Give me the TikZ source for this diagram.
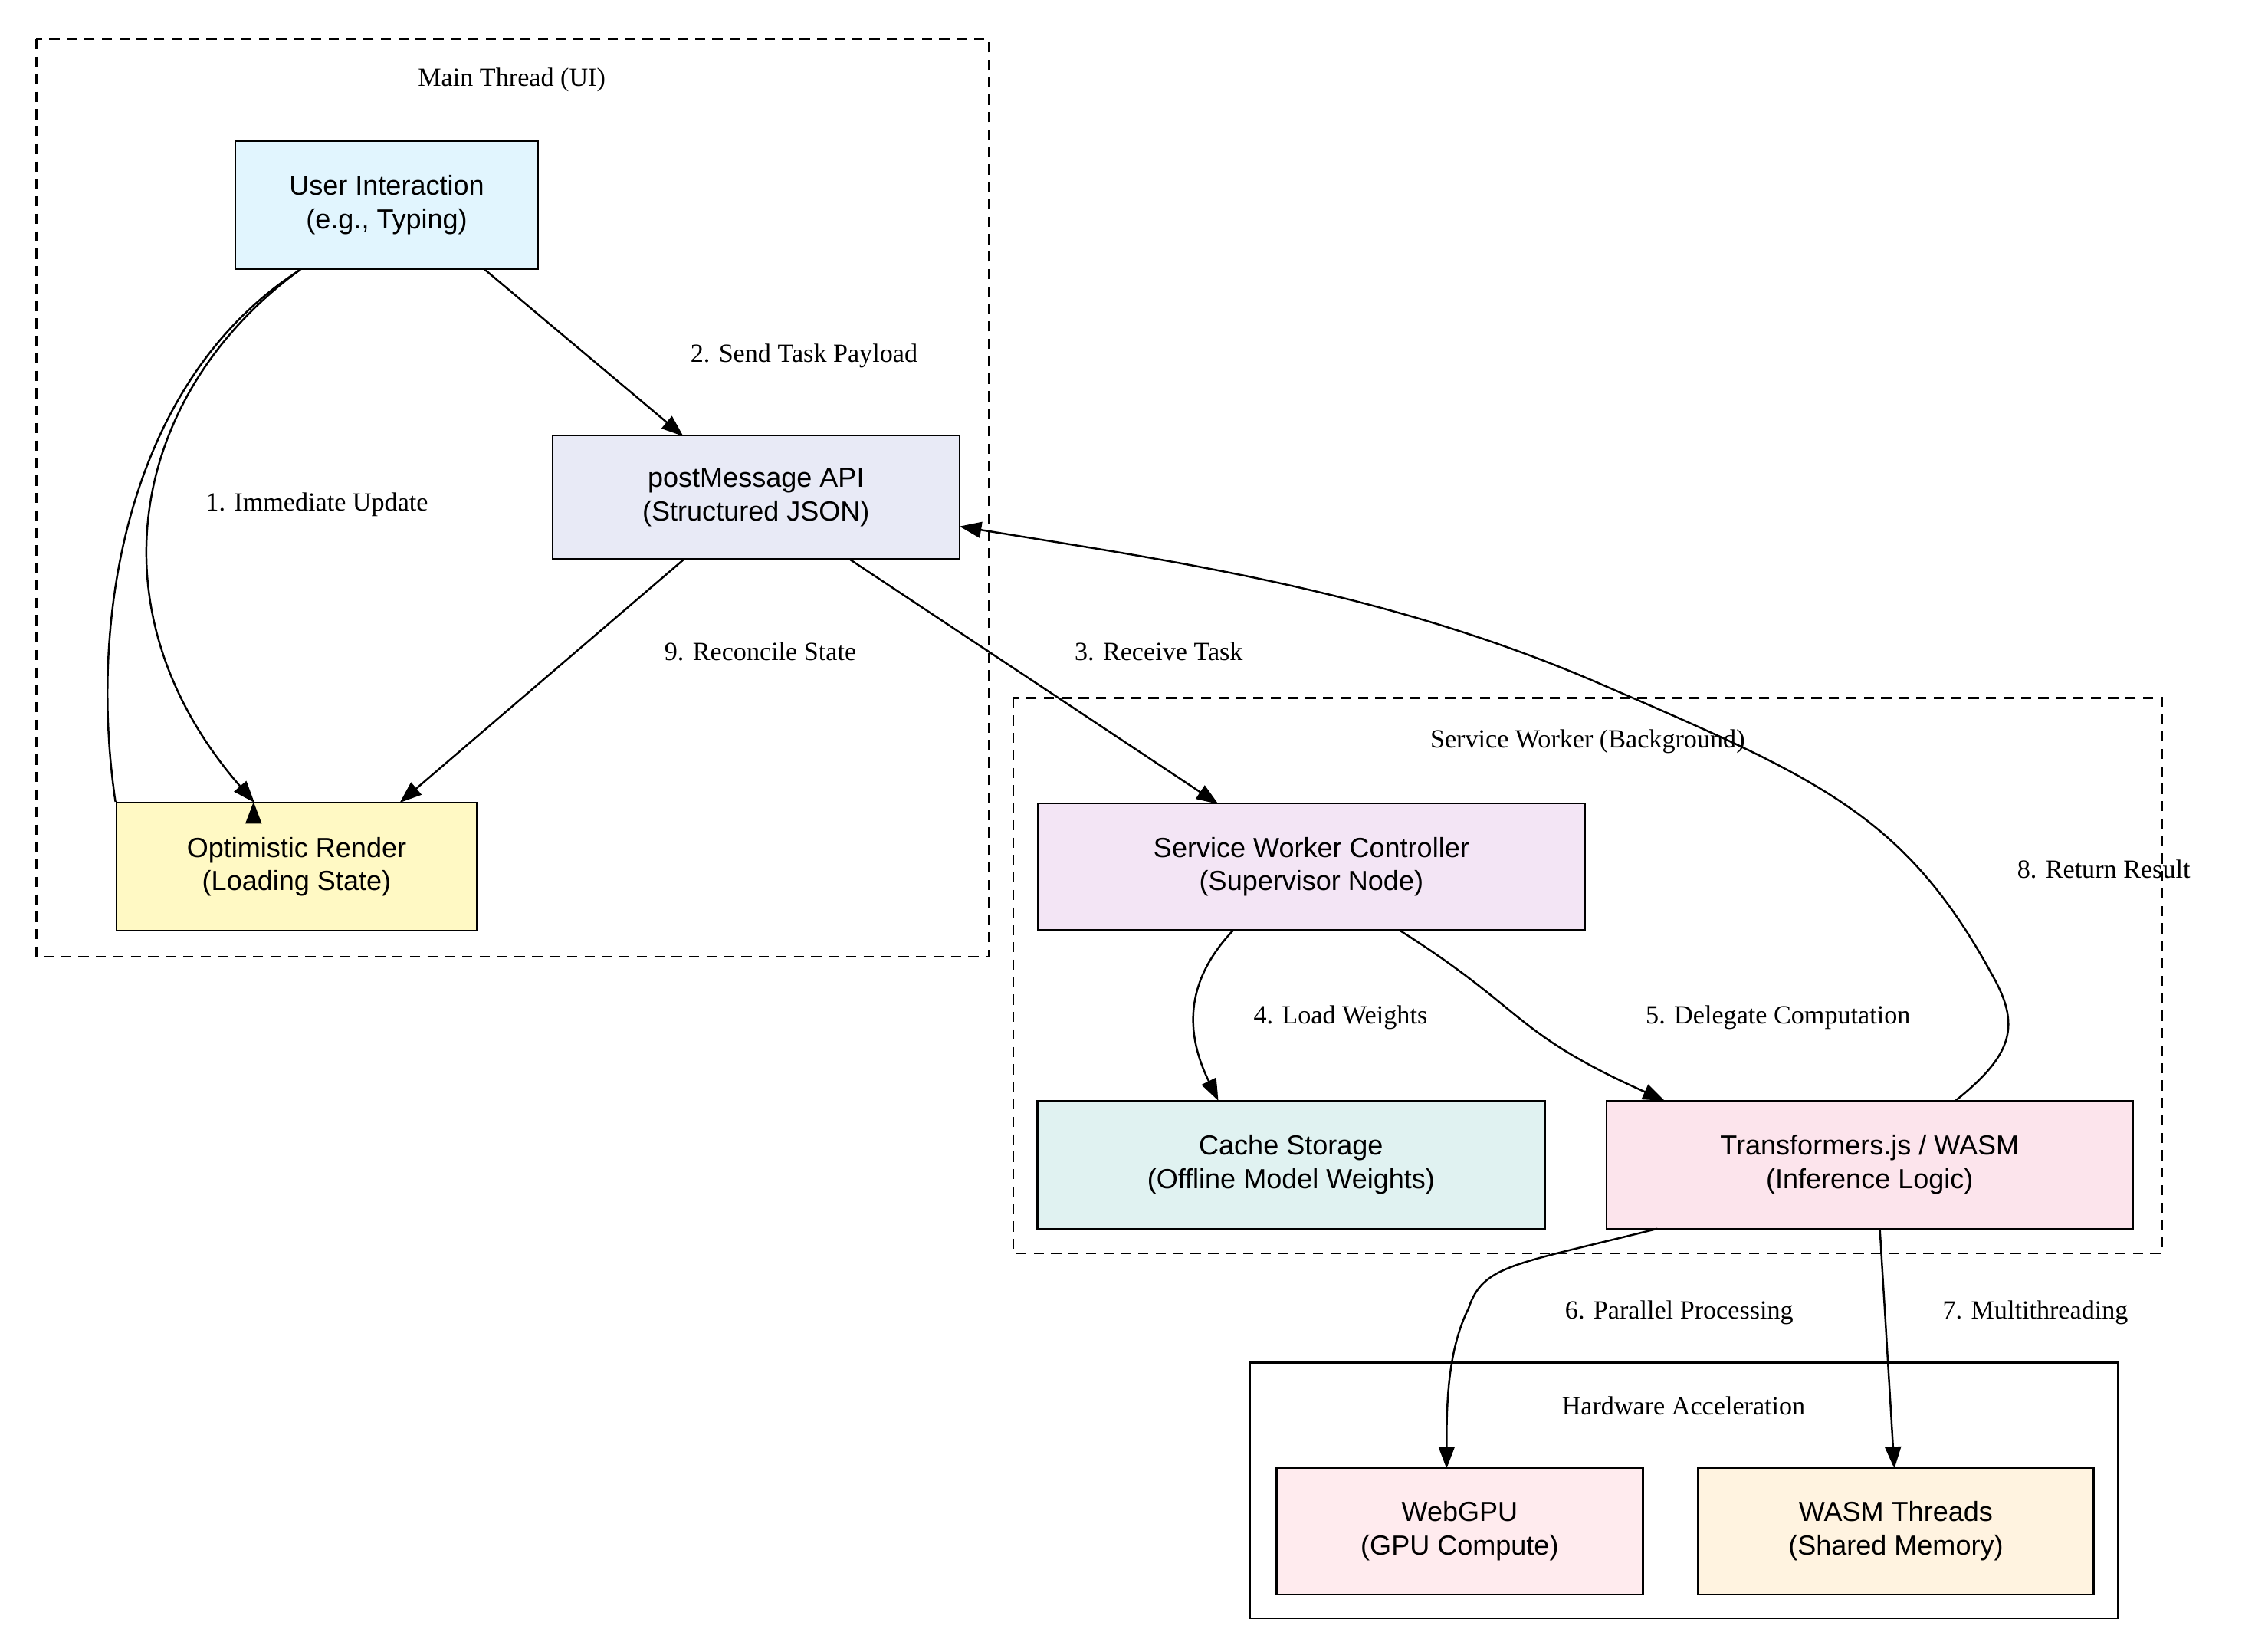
\documentclass[tikz,border=0pt]{standalone}
\usepackage{fontspec}
\setmainfont{Liberation Serif}
\newfontfamily\nodefont{Liberation Sans}
\usetikzlibrary{arrows.meta}
\begin{document}
\begin{tikzpicture}[x=1pt,y=-1pt,
  box/.style={draw,line width=1.2pt,inner sep=0pt,font=\nodefont\fontsize{19}{23}\selectfont,align=center},
  clus/.style={draw,line width=1.3pt,dash pattern=on 7pt off 5pt},
  ctitle/.style={font=\fontsize{18}{22}\selectfont},
  lab/.style={font=\fontsize{18}{22}\selectfont,fill=none},
  arr/.style={line width=1.3pt,-{Triangle[length=15pt,width=11pt]}}]
\useasboundingbox[fill=white] (0,0) rectangle (1560,1136);
% clusters
\draw[clus] (25,27) rectangle (680,658);
\node[ctitle] (t1) at (352,55) {Main Thread (UI)};
\draw[clus] (697,480) rectangle (1487,862);
\node[ctitle] (t2) at (1092,510) {Service Worker (Background)};
\draw[line width=1.3pt] (860,937) rectangle (1457,1113);
\node[ctitle] (t3) at (1158,967) {Hardware Acceleration};
% nodes
\node[box,fill={rgb,255:red,225;green,245;blue,254},minimum width=208pt,minimum height=88pt] (ui) at (266,141) {User Interaction\\(e.g., Typing)};
\node[box,fill={rgb,255:red,232;green,234;blue,246},minimum width=280pt,minimum height=85pt] (pm) at (520,342) {postMessage API\\(Structured JSON)};
\node[box,fill={rgb,255:red,255;green,249;blue,196},minimum width=248pt,minimum height=88pt] (or) at (204,596) {Optimistic Render\\(Loading State)};
\node[box,fill={rgb,255:red,243;green,229;blue,245},minimum width=376pt,minimum height=87pt] (sw) at (902,596) {Service Worker Controller\\(Supervisor Node)};
\node[box,fill={rgb,255:red,224;green,242;blue,241},minimum width=349pt,minimum height=88pt] (cs) at (888,801) {Cache Storage\\(Offline Model Weights)};
\node[box,fill={rgb,255:red,252;green,228;blue,236},minimum width=362pt,minimum height=88pt] (tf) at (1286,801) {Transformers.js / WASM\\(Inference Logic)};
\node[box,fill={rgb,255:red,255;green,235;blue,238},minimum width=252pt,minimum height=87pt] (gpu) at (1004,1053) {WebGPU\\(GPU Compute)};
\node[box,fill={rgb,255:red,255;green,243;blue,224},minimum width=272pt,minimum height=87pt] (wt) at (1304,1053) {WASM Threads\\(Shared Memory)};
% edges
\draw[arr] (ui.south west)++(45,0) .. controls (90,260) and (60,420) .. (or.north west)++(95,0);
\draw[arr] (207,185) .. controls (90,270) and (60,420) .. (175,552);
\node[lab] (l1) at (218,347) {1. Immediate Update};
\draw[arr] (333,185) -- (470,300);
\node[lab] (l2) at (553,245) {2. Send Task Payload};
\draw[arr] (585,385) -- (838,553);
\node[lab] (l3) at (797,448) {3. Receive Task};
\draw[arr] (470,385) -- (275,552);
\node[lab] (l9) at (523,448) {9. Reconcile State};
\draw[arr] (848,640) .. controls (815,675) and (815,710) .. (838,757);
\node[lab] (l4) at (922,700) {4. Load Weights};
\draw[arr] (963,640) .. controls (1050,695) and (1040,710) .. (1145,757);
\node[lab] (l5) at (1223,700) {5. Delegate Computation};
\draw[arr] (1345,757) .. controls (1385,725) and (1390,705) .. (1370,670) .. controls (1310,560) and (1250,535) .. (1100,470) .. controls (950,405) and (800,385) .. (660,362);
\node[lab] (l8) at (1447,598) {8. Return Result};
\draw[arr] (1140,845) .. controls (1040,870) and (1020,870) .. (1010,900) .. controls (995,930) and (995,970) .. (995,1010);
\node[lab] (l6) at (1155,903) {6. Parallel Processing};
\draw[arr] (1293,845) -- (1303,1010);
\node[lab] (l7) at (1400,903) {7. Multithreading};
\end{tikzpicture}
\end{document}
